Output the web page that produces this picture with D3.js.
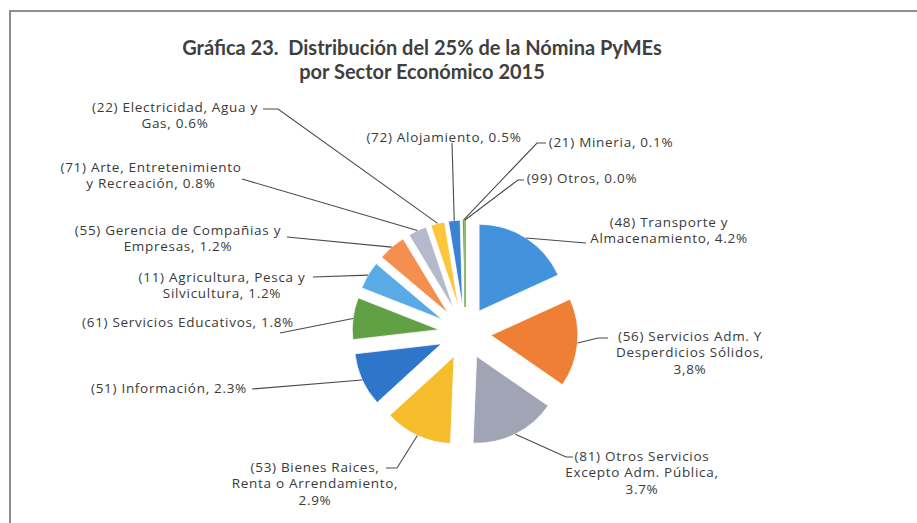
<!DOCTYPE html>
<html>
<head>
<meta charset="utf-8">
<script src="https://cdn.jsdelivr.net/npm/d3@7"></script>
<style>
  body { margin: 0; background: #fff; }
  svg { display: block; }
</style>
</head>
<body>
<div id="chart"></div>
<script>
// Data, clockwise from 12 o'clock
const categories = [
  ["(48) Transporte y", "Almacenamiento,"],
  ["(56) Servicios Adm. Y", "Desperdicios Sólidos,"],
  ["(81) Otros Servicios", "Excepto Adm. Pública,"],
  ["(53) Bienes Raices,", "Renta o Arrendamiento,"],
  ["(51) Información,"],
  ["(61) Servicios Educativos,"],
  ["(11) Agricultura, Pesca y", "Silvicultura,"],
  ["(55) Gerencia de Compañias y", "Empresas,"],
  ["(71) Arte, Entretenimiento", "y Recreación,"],
  ["(22) Electricidad, Agua y", "Gas,"],
  ["(72) Alojamiento,"],
  ["(21) Mineria,"],
  ["(99) Otros,"]
];
const values = [4.2, 3.8, 3.7, 2.9, 2.3, 1.8, 1.2, 1.2, 0.8, 0.6, 0.5, 0.1, 0.0];
const valueLabels = ["4.2%", "3,8%", "3.7%", "2.9%", "2.3%", "1.8%", "1.2%", "1.2%", "0.8%", "0.6%", "0.5%", "0.1%", "0.0%"];
const colors = ["#4393dc", "#ef7f35", "#a0a4b5", "#f5bc2c", "#2f75c9", "#62a046",
                "#5aaae6", "#f48f50", "#b4bacb", "#fcc73a", "#3a82d4", "#6aaa48", "#6aaa48"];

const titleLines = ["Gráfica 23.  Distribución del 25% de la Nómina PyMEs", "por Sector Económico 2015"];

// Label layout: centre x, first line y, value on its own line?, leader points (label side)
const labelLayout = [
  {x: 669, y: 222, own: false, lead: [[586, 243]]},
  {x: 690, y: 336, own: true,  lead: [[598, 338], [608, 338]]},
  {x: 642, y: 456, own: true,  lead: [[566, 457], [573, 457]]},
  {x: 315, y: 467, own: true,  lead: [[397, 468], [386, 468]]},
  {x: 169, y: 388, own: false, lead: [[252, 389]]},
  {x: 188, y: 322, own: false, lead: [[280, 333]]},
  {x: 222, y: 277, own: false, lead: [[313, 277]]},
  {x: 178, y: 230, own: false, lead: [[287, 237]]},
  {x: 151, y: 167, own: false, lead: [[242, 179]]},
  {x: 175, y: 107, own: false, lead: [[278, 109], [263, 109]]},
  {x: 444, y: 137, own: false, lead: [[452, 143]]},
  {x: 611, y: 142, own: false, lead: [[537, 143], [546, 143]]},
  {x: 582, y: 178, own: false, lead: [[518, 180], [524, 180]]}
];

const width = 917, height = 523;
const cx = 465, cy = 333, radius = 87, explode = 26;

const svg = d3.select("#chart").append("svg")
    .attr("width", width)
    .attr("height", height);

svg.append("rect").attr("width", width).attr("height", height).attr("fill", "#fff");

// Chart frame (only top and left edges are visible in the scan)
svg.append("path")
    .attr("d", `M10,${height} L10,11 L${width},11`)
    .attr("fill", "none")
    .attr("stroke", "#8e8e8e")
    .attr("stroke-width", 2);

// Title
svg.selectAll(".title")
  .data(titleLines)
  .join("text")
    .attr("class", "title")
    .attr("x", 422)
    .attr("y", (d, i) => 55 + i * 24)
    .attr("text-anchor", "middle")
    .attr("font-family", "Lato, 'Open Sans', sans-serif")
    .attr("font-weight", "bold")
    .attr("font-size", 20)
    .attr("fill", "#3f3f3f")
    .style("white-space", "pre")
    .text(d => d);

const pie = d3.pie().sort(null).value(d => d);
const arcs = pie(values);
const arc = d3.arc().innerRadius(0).outerRadius(radius);

const g = svg.append("g").attr("transform", `translate(${cx},${cy})`);

function offset(d) {
  const a = (d.startAngle + d.endAngle) / 2;
  return [explode * Math.sin(a), -explode * Math.cos(a)];
}

g.selectAll(".slice")
  .data(arcs)
  .join("path")
    .attr("class", "slice")
    .attr("transform", d => `translate(${offset(d)})`)
    .attr("d", arc)
    .attr("fill", (d, i) => colors[i])
    .attr("stroke", (d, i) => d.value === 0 ? colors[i] : "#fff")
    .attr("stroke-width", (d, i) => d.value === 0 ? 1 : 0.8);

// Leader lines from the outer arc middle to the label
const line = d3.line();
svg.selectAll(".leader")
  .data(arcs)
  .join("path")
    .attr("class", "leader")
    .attr("fill", "none")
    .attr("stroke", "#4a4a4a")
    .attr("stroke-width", 1.1)
    .attr("d", (d, i) => {
      const a = (d.startAngle + d.endAngle) / 2;
      const o = offset(d);
      const p = [cx + o[0] + radius * Math.sin(a), cy + o[1] - radius * Math.cos(a)];
      return line([p, ...labelLayout[i].lead]);
    });

// Labels
const labels = svg.selectAll(".label")
  .data(arcs)
  .join("text")
    .attr("class", "label")
    .attr("text-anchor", "middle")
    .attr("font-family", "'Open Sans', sans-serif")
    .attr("font-size", 13.5)
    .attr("letter-spacing", 0.7)
    .attr("fill", "#3a3a3a");

labels.each(function(d, i) {
  const lay = labelLayout[i];
  const lines = categories[i].slice();
  if (lay.own) lines.push(valueLabels[i]);
  else lines[lines.length - 1] += " " + valueLabels[i];
  d3.select(this).selectAll("tspan")
    .data(lines)
    .join("tspan")
      .attr("x", lay.x)
      .attr("y", (t, j) => lay.y + 4.5 + j * 16.5)
      .text(t => t);
});
</script>
</body>
</html>
